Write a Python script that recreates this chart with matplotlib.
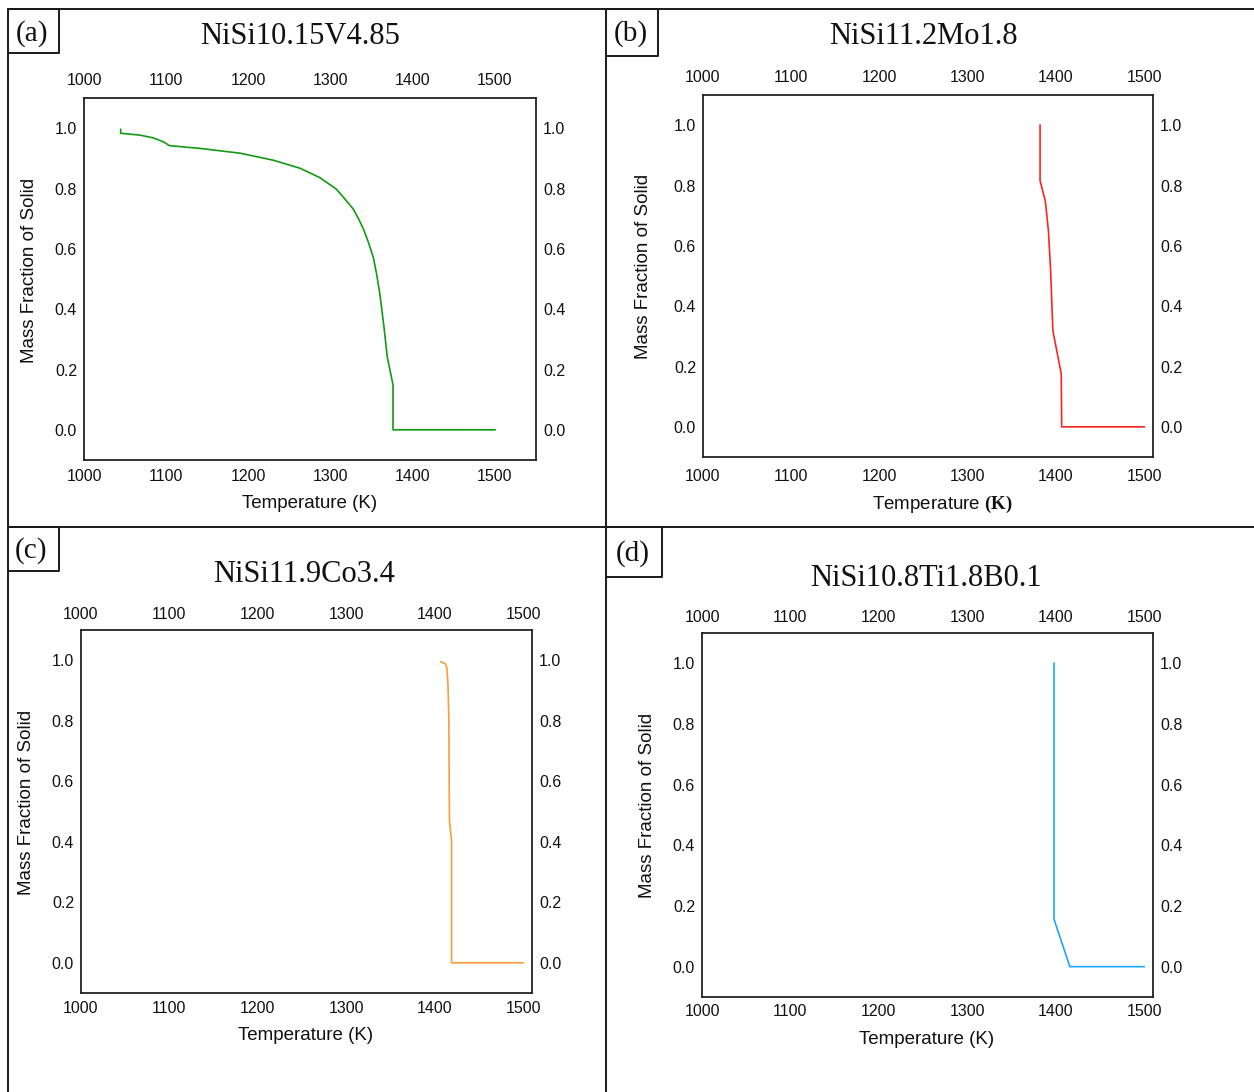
import numpy as np
import matplotlib.pyplot as plt

plt.rcParams['font.family'] = 'Liberation Sans'
plt.rcParams['mathtext.fontset'] = 'custom'
plt.rcParams['mathtext.bf'] = 'Liberation Serif:bold'
plt.rcParams['mathtext.rm'] = 'Liberation Sans'

W, H = 1254, 1092

# solidification curves (temperature in K, mass fraction of solid)
temp_a = [1044.6, 1044.6, 1068, 1084, 1096.5, 1104, 1141, 1190, 1230, 1263, 1287, 1307,
          1316, 1327.6, 1334, 1340, 1346, 1352, 1356, 1360, 1365, 1369, 1376, 1376, 1500]
frac_a = [0.996, 0.983, 0.977, 0.968, 0.955, 0.942, 0.933, 0.917, 0.894, 0.867, 0.836, 0.798,
          0.770, 0.732, 0.700, 0.666, 0.622, 0.572, 0.517, 0.451, 0.341, 0.242, 0.149, 0.0, 0.0]

temp_b = [1382, 1382, 1388, 1391.5, 1394, 1396.5, 1406, 1406.5, 1500]
frac_b = [1.0, 0.816, 0.748, 0.649, 0.517, 0.319, 0.176, 0.0, 0.0]

temp_c = [1407, 1412, 1413.7, 1415, 1416, 1416.3, 1416.7, 1419, 1419, 1500]
frac_c = [0.995, 0.988, 0.975, 0.92, 0.798, 0.622, 0.467, 0.406, 0.0, 0.0]

temp_d = [1398, 1398, 1416, 1500]
frac_d = [1.0, 0.157, 0.0, 0.0]

titles = ['NiSi10.15V4.85', 'NiSi11.2Mo1.8', 'NiSi11.9Co3.4', 'NiSi10.8Ti1.8B0.1']
letters = ['(a)', '(b)', '(c)', '(d)']
colors = ['#139a13', '#ff2424', '#ff9a3c', '#1ea6ff']
xticks = [1000, 1100, 1200, 1300, 1400, 1500]
yticks = [0.0, 0.2, 0.4, 0.6, 0.8, 1.0]
xlabels = ['Temperature (K)', r'Temperature $\mathbf{(K)}$', 'Temperature (K)', 'Temperature (K)']

# layout in pixels: box (left, top, right, bottom), xmax, top pad, bottom pad
boxes = [(84, 98, 536, 460), (703, 95, 1153, 457), (81, 630, 532, 993), (702, 633, 1153, 997)]
xmax = [1550, 1510, 1510, 1510]
pads_top = [7, 7, 6, 6]
pads_bot = [6.5, 8.5, 6, 5]
title_pos = [(300, 36), (923, 36), (304, 574), (926, 579)]
letter_pos = [(32, 34), (631, 34), (31, 551), (633, 554)]
label_boxes = [(8, 9, 59, 53), (606, 9, 658, 56), (8, 527, 59, 571), (606, 527, 662, 577)]
ylab_pos = [(30, 270), (644, 266), (27, 802), (647, 805)]
xlab_pos = [(310, 504), (942, 504), (306, 1036), (927, 1039)]

fig = plt.figure(figsize=(W / 100, H / 100), dpi=100)

# overlay in pixel units for frame lines and free text
ov = fig.add_axes([0, 0, 1, 1])
ov.set_xlim(0, W)
ov.set_ylim(H, 0)
ov.axis('off')
ov.patch.set_alpha(0)

lc = '#1a1a1a'
ov.plot([8, W], [9, 9], color=lc, lw=1.4)
ov.plot([8, 8], [9, H], color=lc, lw=1.4)
ov.plot([606, 606], [9, H], color=lc, lw=1.4)
ov.plot([8, W], [527, 527], color=lc, lw=1.4)
for (x0, y0, x1, y1) in label_boxes:
    ov.plot([x0, x1, x1, x0], [y0, y0, y1, y1], color=lc, lw=1.4)

series = [(temp_a, frac_a), (temp_b, frac_b), (temp_c, frac_c), (temp_d, frac_d)]

for i in range(4):
    l, t, r, b = boxes[i]
    ax = fig.add_axes([l / W, 1 - b / H, (r - l) / W, (b - t) / H])
    ax.plot(series[i][0], series[i][1], color=colors[i], lw=1.2)
    ax.set_xlim(1000, xmax[i])
    ax.set_ylim(-0.1, 1.1)
    ax.set_xticks(xticks)
    ax.set_xticklabels([str(v) for v in xticks])
    ax.set_yticks(yticks)
    ax.set_yticklabels(['%.1f' % v for v in yticks])
    ax.tick_params(axis='both', length=0, labelsize=11.5, colors='#111111')
    ax.tick_params(axis='x', pad=pads_bot[i])
    ax.tick_params(axis='y', right=True, labelright=True, pad=5)
    for sp in ax.spines.values():
        sp.set_linewidth(1.3)
        sp.set_color('#222222')

    # top labels need their own pad
    sec = ax.secondary_xaxis('top')
    sec.set_xticks(xticks)
    sec.set_xticklabels([str(v) for v in xticks])
    sec.tick_params(length=0, labelsize=11.5, pad=pads_top[i], colors='#111111')
    sec.spines['top'].set_visible(False)

    ov.text(title_pos[i][0], title_pos[i][1], titles[i], family='Liberation Serif',
            fontsize=22, ha='center', va='center', color='#111111')
    ov.text(letter_pos[i][0], letter_pos[i][1], letters[i], family='Liberation Serif',
            fontsize=21, ha='center', va='center', color='#111111')
    ov.text(ylab_pos[i][0], ylab_pos[i][1], 'Mass Fraction of Solid', rotation=90,
            fontsize=13.5, ha='center', va='center', color='#111111')
    ov.text(xlab_pos[i][0], xlab_pos[i][1], xlabels[i], fontsize=13.5,
            ha='center', va='center', color='#111111')

fig.savefig('out.png', dpi=100)
